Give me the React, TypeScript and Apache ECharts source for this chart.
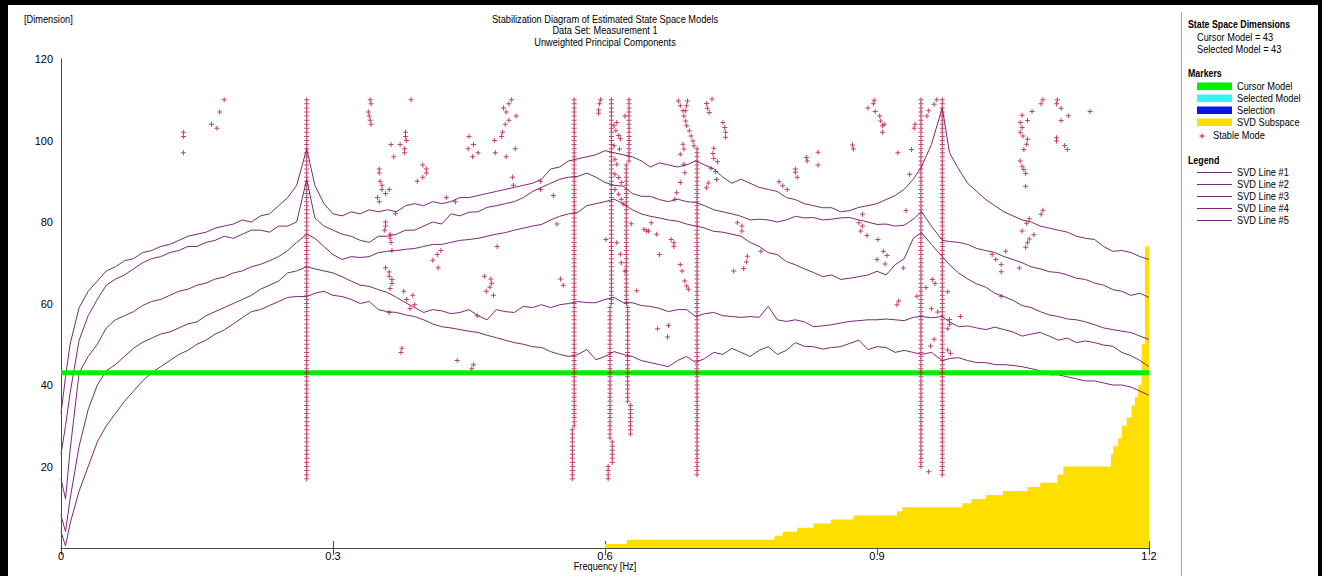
import React, { useEffect, useRef } from 'react';
import * as echarts from 'echarts';

// ---------------- data ----------------
const FREQ = [0, 0.005, 0.01, 0.02, 0.03, 0.04, 0.05, 0.06, 0.07, 0.08, 0.09,
  0.1, 0.11, 0.12, 0.13, 0.14, 0.15, 0.16, 0.17, 0.18, 0.19,
  0.2, 0.21, 0.22, 0.23, 0.24, 0.25, 0.26, 0.271, 0.28, 0.29,
  0.3, 0.31, 0.32, 0.33, 0.34, 0.35, 0.36, 0.37, 0.38, 0.39,
  0.4, 0.41, 0.42, 0.43, 0.44, 0.45, 0.46, 0.47, 0.48, 0.49,
  0.5, 0.51, 0.52, 0.53, 0.54, 0.55, 0.56, 0.57, 0.58, 0.59,
  0.6, 0.61, 0.62, 0.63, 0.64, 0.65, 0.66, 0.67, 0.68, 0.69,
  0.7, 0.71, 0.72, 0.73, 0.74, 0.75, 0.76, 0.77, 0.78, 0.79,
  0.8, 0.81, 0.82, 0.83, 0.84, 0.85, 0.86, 0.87, 0.88, 0.89,
  0.9, 0.91, 0.92, 0.93, 0.94, 0.949, 0.96, 0.972, 0.98, 0.99,
  1.0, 1.01, 1.02, 1.03, 1.04, 1.05, 1.06, 1.07, 1.08, 1.09,
  1.1, 1.11, 1.12, 1.13, 1.14, 1.15, 1.16, 1.17, 1.18, 1.19, 1.2];

const SVD_LINE_1 = [33, 42, 50, 59, 63, 65.5, 68, 69, 70.5, 71, 72.5,
  73, 74, 74.5, 75.5, 76.5, 77, 77.5, 78.5, 79, 79.5,
  80.5, 80, 81.5, 82, 84, 86, 89, 98, 89, 84.5,
  82, 81.5, 82.5, 82, 83, 82.5, 83, 82.5, 84, 84.5,
  84, 85, 84.5, 85, 86, 86, 86.5, 87, 87.5, 88,
  88.5, 89, 89.5, 90.5, 93, 93.5, 95, 95.5, 96, 96.5,
  97.5, 97, 96.5, 96, 95, 93.5, 94.5, 94, 93.5, 94,
  95, 94, 93, 91, 89.5, 90.5, 89.5, 88.5, 88, 87.5,
  86, 85.5, 84.5, 84, 83.5, 83.5, 82.5, 82.8, 83.6, 84,
  84.5, 85.5, 86.5, 88, 90.5, 93.5, 99, 108, 97, 93,
  89.5, 87.5, 85.5, 84, 82.5, 81.5, 80.5, 80, 79, 78.5,
  78, 77.5, 76.5, 76, 75.7, 74, 72.8, 73, 72.5, 71.5, 70.8];

const SVD_LINE_2 = [23, 30, 38, 51, 57, 61, 64.5, 66, 67, 68.5, 70,
  71, 71.5, 72.5, 73, 74, 74, 75, 75.5, 76.5, 76,
  77, 78, 78, 77.5, 79, 79, 80, 90.5, 81, 79,
  78, 77, 76.5, 75.5, 75, 76.5, 76.5, 77, 78, 78,
  79, 80, 79.5, 82, 81.5, 82.4, 82.5, 83.6, 84, 84.5,
  85, 86, 87.5, 88.5, 89.5, 90.5, 91, 91.2, 92, 91,
  89.7, 89, 88.8, 87, 86.3, 86.3, 85.5, 85, 85.6, 85,
  84.8, 84, 83, 82.5, 82, 81.4, 80.5, 80.7, 80.5, 80,
  80.5, 81.4, 81, 81.1, 80.5, 80.7, 81, 81.1, 80.5, 80,
  79.4, 79.5, 79, 79.2, 80.7, 82.6, 79, 75.5, 75.2, 75,
  74.5, 73.5, 73, 72.5, 71.5, 70.8, 70, 69, 68.5, 67.8,
  67.6, 67, 66.2, 65.9, 65, 64.5, 63.4, 63, 62, 62.5, 61.5];

const SVD_LINE_3 = [17, 12, 24, 43, 47, 50, 54, 56, 57, 58, 59.5,
  60.5, 61, 62, 63, 63.5, 64.5, 65, 66, 66.5, 67.5,
  68, 69, 69.6, 70.5, 71.5, 73, 75, 77, 76, 74,
  72, 70.8, 71.5, 71.3, 71.5, 72.5, 72.8, 73, 73.3, 73.5,
  74, 74.5, 74.5, 75, 75.5, 75.7, 76, 76.5, 77, 77.4,
  78, 78.5, 79, 79.4, 80.5, 81.4, 82, 82.4, 84, 84.5,
  85, 85.6, 84.5, 83, 82, 81.4, 81, 80.5, 80.2, 79.5,
  79, 78.5, 77.7, 77.5, 77, 76.5, 75, 74, 72.5, 72,
  70.3, 69.5, 68.5, 67.6, 66.6, 67, 65.9, 66.2, 66.6, 67,
  67.9, 67, 69.5, 71, 76, 77.4, 74.5, 71.5, 69.5, 67.5,
  66, 64.8, 64, 62.5, 61.7, 60.8, 59.5, 59, 58, 57.2,
  56.8, 56.2, 56, 55.5, 54.8, 54, 53.6, 53.2, 52.9, 52, 51.2];

const SVD_LINE_4 = [8, 4, 12, 25, 34, 40, 43.5, 45, 47, 49, 50.5,
  51.5, 52.5, 53, 54, 55, 55.5, 57, 58, 59, 60,
  61, 62, 63.5, 64.5, 65.5, 67.5, 68, 69, 68.5, 68,
  67.5, 66.6, 65.5, 64.5, 64.2, 63.4, 62.7, 61.5, 60.2, 59,
  57.8, 58.5, 58.2, 57.5, 57.8, 58.5, 57, 56, 58.5, 58,
  57.8, 59.3, 59, 59.7, 59, 59.7, 60, 60.5, 60.2, 60.2,
  61, 61.5, 60.2, 60.2, 59.5, 59.3, 58.8, 58, 58.5, 58.5,
  56.8, 57.5, 57.8, 57, 56.8, 56.6, 56.8, 56.6, 59.3, 56,
  55.6, 56, 55.5, 54.3, 54.5, 54.8, 55.2, 55.6, 55.8, 56,
  56, 56.2, 56, 55.8, 56.6, 56.8, 56.5, 56.8, 55.5, 54.3,
  54.5, 54, 53.6, 54.2, 53.6, 53, 52, 52.5, 52.9, 52,
  51, 51.5, 50.4, 50.8, 50.4, 49.8, 49.5, 48, 47.2, 46, 44.5];

const SVD_LINE_5 = [4, 0.5, 6, 14, 20, 26, 30, 33, 36, 38.5, 41,
  43, 44.5, 46, 47.5, 48.5, 50, 51, 52.5, 53.5, 55,
  56.5, 58, 58.5, 59.5, 60.5, 61.5, 61.7, 61.7, 62.5, 63,
  62, 61.7, 61, 60, 60.5, 58.5, 58, 57.8, 57.2, 56.8,
  56, 55, 54.3, 54, 53.6, 53.2, 52.9, 52.2, 51.6, 51,
  50.4, 50, 49.4, 49.2, 48.2, 47.5, 47, 47.5, 48.7, 46.2,
  47, 48.2, 47.5, 47, 46, 45.5, 45, 44.5, 46, 47,
  45.5, 46.5, 48, 47.5, 49, 48, 47, 48.5, 49.4, 47.5,
  48.5, 50.4, 49.5, 49.4, 48.8, 49.2, 49.4, 50.2, 51, 48.7,
  49.4, 49.2, 48, 48.5, 48, 47.5, 48, 46, 46.5, 46.7,
  46, 45.5, 45.5, 45, 45, 44.8, 44.5, 44, 43.5, 42.5,
  42.5, 42, 41.5, 41, 41, 40.5, 40, 40, 39.5, 38.5, 37.5];

const SVD_LINES = [SVD_LINE_1, SVD_LINE_2, SVD_LINE_3, SVD_LINE_4, SVD_LINE_5];
const SVD_NAMES = ['SVD Line #1', 'SVD Line #2', 'SVD Line #3', 'SVD Line #4', 'SVD Line #5'];

// stable mode columns: [frequency, lowest dimension, highest dimension]
const STABLE_COLUMNS = [
  [0.271, 17, 110],
  [0.566, 30, 110], [0.564, 17, 29],
  [0.607, 60, 110], [0.6055, 27, 59], [0.608, 21, 26], [0.6035, 17, 20],
  [0.6265, 95, 110], [0.6235, 60, 94], [0.625, 36, 59], [0.628, 28, 35],
  [0.7015, 18, 98],
  [0.9485, 20, 110],
  [0.972, 18, 110],
];

// isolated stable modes: [frequency, dimension]
const STABLE_POINTS = [
  [0.135, 102], [0.135, 101], [0.135, 97], [0.166, 104], [0.172, 103], [0.175, 107], [0.18, 110],
  [0.341, 110], [0.342, 109], [0.339, 107], [0.34, 106], [0.341, 105], [0.342, 104],
  [0.351, 93], [0.351, 92], [0.352, 90], [0.354, 89], [0.354, 88], [0.349, 86], [0.351, 85],
  [0.386, 110], [0.38, 102], [0.38, 101], [0.381, 100], [0.379, 98], [0.379, 97],
  [0.364, 99], [0.374, 99], [0.367, 96], [0.362, 88], [0.358, 87],
  [0.399, 94], [0.403, 93], [0.403, 92], [0.399, 91], [0.393, 90],
  [0.369, 82], [0.358, 80], [0.358, 79], [0.357, 78], [0.363, 77], [0.363, 76], [0.364, 75], [0.365, 73],
  [0.419, 73], [0.415, 72], [0.41, 70.6], [0.416, 68.8], [0.425, 86], [0.435, 85],
  [0.358, 68.8], [0.362, 67.7], [0.362, 66.7], [0.365, 65.9], [0.365, 64.9], [0.363, 63.7],
  [0.378, 63], [0.381, 61], [0.388, 62], [0.39, 59.7], [0.385, 58.8], [0.362, 57.8],
  [0.376, 49], [0.375, 48],
  [0.45, 101], [0.455, 99], [0.449, 98], [0.46, 97], [0.454, 96],
  [0.478, 100], [0.479, 97], [0.487, 102], [0.486, 101], [0.49, 104], [0.491, 107], [0.494, 109], [0.497, 110],
  [0.501, 98], [0.491, 96], [0.488, 108], [0.494, 105], [0.502, 106],
  [0.498, 91], [0.499, 89], [0.529, 90], [0.529, 88], [0.481, 74],
  [0.467, 66.7], [0.474, 66], [0.475, 65], [0.473, 64], [0.469, 63], [0.477, 62],
  [0.459, 57], [0.437, 46], [0.455, 45], [0.453, 44],
  [0.543, 86.5], [0.547, 79.5], [0.551, 66], [0.554, 64.5],
  [0.595, 110], [0.594, 109], [0.593, 107.5], [0.593, 106.7],
  [0.613, 104.4], [0.61, 103.6], [0.612, 102.4], [0.615, 101.2], [0.617, 100.4], [0.61, 98.7], [0.616, 97.9],
  [0.611, 95.4], [0.613, 94.2], [0.611, 91.7], [0.615, 90.9], [0.618, 89.7], [0.611, 88], [0.615, 86.8],
  [0.618, 85.6], [0.62, 84.4], [0.622, 106],
  [0.601, 75.7], [0.613, 74.9], [0.617, 72.1], [0.618, 70], [0.622, 68], [0.635, 63.1], [0.629, 79.6],
  [0.643, 78.2], [0.646, 77.8], [0.648, 77.8], [0.651, 79.8], [0.657, 77], [0.66, 72], [0.673, 75.7],
  [0.676, 74.9], [0.676, 74], [0.683, 69.6], [0.685, 68], [0.688, 65.5], [0.69, 64.3], [0.692, 63.5],
  [0.658, 53.8], [0.67, 54.6], [0.669, 51.8], [0.742, 68],
  [0.681, 109.7], [0.683, 108.5], [0.686, 107.3], [0.687, 106], [0.689, 104.8], [0.69, 103.6], [0.693, 102.4],
  [0.695, 101.1], [0.697, 99.9], [0.698, 98.7], [0.691, 109.7], [0.69, 108.5], [0.689, 107.3],
  [0.712, 109.1], [0.713, 107.9], [0.715, 106.9], [0.718, 110.2], [0.73, 104.4], [0.732, 103.2], [0.733, 102], [0.733, 100.8],
  [0.683, 96.6], [0.687, 94.2], [0.688, 92.1], [0.683, 89.7], [0.679, 87.2], [0.677, 85.6], [0.686, 99.1], [0.687, 97.9],
  [0.72, 98.1], [0.719, 96.8], [0.72, 95.6], [0.724, 94.8], [0.717, 93.2], [0.722, 92.4], [0.723, 90.4], [0.714, 89.6], [0.712, 88.4],
  [0.746, 79.8], [0.751, 79], [0.751, 77.8], [0.753, 68.6], [0.756, 70.2], [0.757, 71.6], [0.772, 72.8],
  [0.792, 89.9], [0.796, 88.9], [0.801, 88], [0.81, 93], [0.81, 92.2], [0.812, 91], [0.822, 95.8], [0.823, 95],
  [0.835, 97.1], [0.835, 94], [0.873, 98.9], [0.874, 97.9], [0.89, 108], [0.896, 109], [0.897, 109.9], [0.898, 107.1],
  [0.903, 106], [0.904, 104.8], [0.906, 103.6], [0.906, 102], [0.908, 104], [0.88, 79.8], [0.884, 81.9], [0.884, 79],
  [0.882, 77.8], [0.889, 76.7], [0.901, 75.7], [0.9, 70.8], [0.907, 72.8], [0.911, 71.8], [0.909, 69.7],
  [0.923, 97], [0.938, 97.8], [0.942, 104], [0.941, 103], [0.955, 106], [0.957, 107.3], [0.963, 108.9], [0.966, 110],
  [0.936, 91.7], [0.932, 82.8], [0.929, 68.7], [0.961, 65.9], [0.964, 64.9], [0.954, 63.9], [0.944, 61.8], [0.978, 62.9],
  [0.922, 59.7], [0.924, 60.6], [0.96, 58.7], [0.967, 57.9], [0.992, 56.8], [0.98, 56.1], [0.98, 54.9], [0.978, 53.8],
  [0.963, 51.2], [0.959, 49.6], [0.978, 48.6], [0.981, 47.8], [0.957, 18.7],
  [1.027, 72], [1.031, 70.8], [1.037, 69.6], [1.042, 72.8], [1.037, 67.8], [1.037, 61.8], [1.057, 68.7],
  [1.058, 104.4], [1.06, 103.2], [1.058, 102], [1.061, 101.1], [1.066, 100.3], [1.065, 99.1], [1.062, 97.8],
  [1.058, 95], [1.06, 93.7], [1.062, 92.9], [1.064, 91.9], [1.064, 88.8], [1.06, 106.2], [1.066, 104.9],
  [1.071, 107.1], [1.081, 109], [1.083, 110], [1.099, 110], [1.098, 109], [1.103, 107.9], [1.111, 106.1],
  [1.103, 104.9], [1.135, 107.1], [1.098, 100.7], [1.098, 99.9], [1.107, 98.8], [1.11, 97.8],
  [1.083, 82.9], [1.081, 81.9], [1.068, 80.8], [1.065, 79.7], [1.06, 77.8], [1.068, 75.8], [1.066, 74.9],
  [1.064, 73.8], [1.073, 76.9],
];

const SUBSPACE_FREQ = [0.6, 0.624, 0.787, 0.796, 0.812, 0.83, 0.849, 0.874, 0.922, 0.928, 0.994, 1.004, 1.02, 1.039,
  1.066, 1.08, 1.099, 1.1055, 1.158, 1.1606, 1.166, 1.17, 1.1753, 1.1808, 1.1845, 1.1881, 1.1918, 1.1955, 1.2];
const SUBSPACE_DIM = [1, 2, 3, 4, 5, 6, 7, 8, 9, 10, 11, 12, 13, 14, 15, 16, 18, 20, 23, 25, 27, 30, 32, 35, 37, 40, 50, 74, 74];

const CURSOR_MODEL = 43;
const SELECTED_MODEL = 43;

const TITLE_LINES = ['Stabilization Diagram of Estimated State Space Models', 'Data Set: Measurement 1', 'Unweighted Principal Components'];
const MARKER_ITEMS = [
  { label: 'Cursor Model', color: '#00f000' },
  { label: 'Selected Model', color: '#3ff0f0' },
  { label: 'Selection', color: '#0a14e6' },
  { label: 'SVD Subspace', color: '#ffdf00' },
];

// ---------------- style ----------------
const FONT = "'Liberation Sans', Arial, sans-serif";
const FS = 11;
const NARROW = 0.84;
const NARROW_BOLD = 0.8;
const LINE_COLOR = '#7a2a78';
const MODE_COLOR = '#b3123f';
const GREEN = '#00f000';
const YELLOW = '#ffdf00';
const PLUS = 'path://M2,0H3V2H5V3H3V5H2V3H0V2H2Z';

const GRID = { left: 61, top: 59, width: 1088, height: 489 };

export default function App() {
  const ref = useRef<HTMLDivElement>(null);

  useEffect(() => {
    const chart = echarts.init(ref.current as HTMLDivElement, null, { renderer: 'svg' });

    const stable: number[][] = [];
    STABLE_COLUMNS.forEach(([f, lo, hi]) => {
      for (let d = lo; d <= hi; d++) stable.push([f, d]);
    });
    STABLE_POINTS.forEach((p) => stable.push(p));

    const txt = (text: string, x: number, y: number, opts: any = {}) => ({
      type: 'text',
      x, y,
      scaleX: opts.bold ? NARROW_BOLD : NARROW,
      silent: true,
      style: {
        text,
        fill: '#000',
        font: `${opts.bold ? 'bold ' : ''}${opts.size || FS}px ${FONT}`,
        textAlign: opts.align || 'left',
        textVerticalAlign: 'middle',
      },
    });

    const graphics: any[] = [
      { type: 'rect', shape: { x: 0, y: 0, width: 1322, height: 5 }, style: { fill: '#000' }, silent: true },
      { type: 'rect', shape: { x: 0, y: 0, width: 8, height: 576 }, style: { fill: '#000' }, silent: true },
      { type: 'rect', shape: { x: 1318, y: 0, width: 4, height: 576 }, style: { fill: '#000' }, silent: true },
      { type: 'line', shape: { x1: 1181.5, y1: 12, x2: 1181.5, y2: 576 }, style: { stroke: '#a8a8a8', lineWidth: 1 }, silent: true },
      txt('[Dimension]', 24, 19),
      txt(TITLE_LINES[0], 605, 19, { align: 'center' }),
      txt(TITLE_LINES[1], 605, 30.5, { align: 'center' }),
      txt(TITLE_LINES[2], 605, 42, { align: 'center' }),
      txt('Frequency [Hz]', 605, 566, { align: 'center' }),
      txt('State Space Dimensions', 1188, 24.5, { bold: true }),
      txt(`Cursor Model = ${CURSOR_MODEL}`, 1197, 37),
      txt(`Selected Model = ${SELECTED_MODEL}`, 1197, 49.5),
      txt('Markers', 1188, 73.5, { bold: true }),
      txt('Legend', 1188, 160, { bold: true }),
    ];
    MARKER_ITEMS.forEach((m, i) => {
      const cy = 86.3 + i * 12;
      graphics.push({ type: 'rect', shape: { x: 1197, y: cy - 3.8, width: 35, height: 7.6 }, style: { fill: m.color }, silent: true });
      graphics.push(txt(m.label, 1237, cy));
    });
    graphics.push({ type: 'line', shape: { x1: 1199.5, y1: 136, x2: 1204.5, y2: 136 }, style: { stroke: MODE_COLOR, lineWidth: 1 }, silent: true });
    graphics.push({ type: 'line', shape: { x1: 1202, y1: 133.5, x2: 1202, y2: 138.5 }, style: { stroke: MODE_COLOR, lineWidth: 1 }, silent: true });
    graphics.push(txt('Stable Mode', 1213, 135));
    SVD_NAMES.forEach((n, i) => {
      const cy = 172.5 + i * 12;
      graphics.push({ type: 'line', shape: { x1: 1197, y1: cy, x2: 1232, y2: cy }, style: { stroke: LINE_COLOR, lineWidth: 1 }, silent: true });
      graphics.push(txt(n, 1237, cy));
    });

    const axisLine = { show: true, lineStyle: { color: '#4a4a4a', width: 1 } };

    const option: any = {
      animation: false,
      backgroundColor: '#fff',
      textStyle: { fontFamily: FONT, fontSize: FS, color: '#000' },
      grid: { ...GRID, show: false },
      xAxis: [
        {
          type: 'value', min: 0, max: 1.2, interval: 0.3, position: 'bottom',
          axisLine, axisTick: { show: true, inside: true, length: 7, lineStyle: { color: '#4a4a4a' } },
          axisLabel: { show: true, margin: 2, fontFamily: FONT, fontSize: FS, color: '#000' },
          splitLine: { show: false },
        },
        {
          type: 'value', min: 0, max: 1.2, interval: 0.3, position: 'top',
          axisLine, axisTick: { show: true, inside: true, length: 7, lineStyle: { color: '#4a4a4a' } },
          axisLabel: { show: false }, splitLine: { show: false },
        },
      ],
      yAxis: [
        {
          type: 'value', min: 0, max: 120, interval: 20, position: 'left',
          axisLine, axisTick: { show: false },
          axisLabel: { show: true, margin: 8, fontFamily: FONT, fontSize: FS, color: '#000', formatter: (v: number) => (v === 0 ? '' : String(v)) },
          splitLine: { show: false },
        },
        {
          type: 'value', min: 0, max: 120, interval: 20, position: 'right',
          axisLine, axisTick: { show: false }, axisLabel: { show: false }, splitLine: { show: false },
        },
      ],
      series: [
        {
          name: 'SVD Subspace', type: 'line', step: 'end', symbol: 'none', z: 1,
          data: SUBSPACE_FREQ.map((f, i) => [f, SUBSPACE_DIM[i]]),
          lineStyle: { width: 0, color: YELLOW },
          areaStyle: { color: YELLOW, opacity: 1 },
        },
        ...SVD_LINES.map((arr, k) => ({
          name: SVD_NAMES[k], type: 'line', symbol: 'none', z: 2,
          data: FREQ.map((f, i) => [f, arr[i]]),
          lineStyle: { width: 1, color: LINE_COLOR },
        })),
        {
          name: 'Cursor Model', type: 'line', symbol: 'none', z: 3,
          data: [[0, CURSOR_MODEL], [1.2, CURSOR_MODEL]],
          lineStyle: { width: 5, color: GREEN, cap: 'butt' },
        },
        {
          name: 'Stable Mode', type: 'scatter', symbol: PLUS, symbolSize: 5, z: 4,
          data: stable,
          itemStyle: { color: MODE_COLOR },
        },
      ],
      graphic: graphics,
    };

    chart.setOption(option);
    return () => chart.dispose();
  }, []);

  return (
    <div
      ref={ref}
      style={{ position: 'absolute', left: 0, top: 0, width: 1322, height: 576, background: '#fff' }}
    />
  );
}
